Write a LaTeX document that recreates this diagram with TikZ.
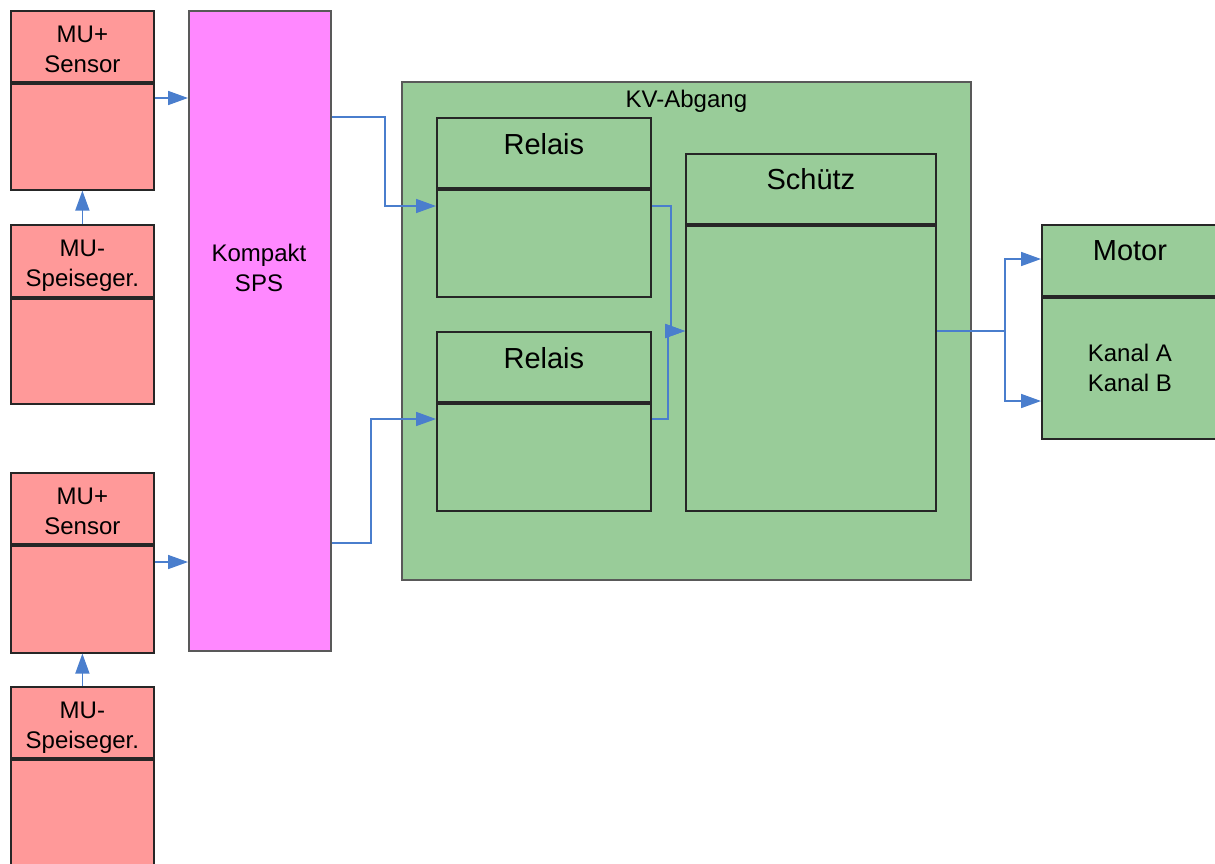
\documentclass[tikz,border=0pt]{standalone}
\usepackage{fontspec}
\setmainfont{Liberation Sans}
\usetikzlibrary{arrows.meta,positioning}
\definecolor{mured}{RGB}{255,153,153}
\definecolor{spsmag}{RGB}{255,136,255}
\definecolor{kvgreen}{RGB}{153,204,153}
\definecolor{linkblue}{RGB}{74,126,205}
\begin{document}
\begin{tikzpicture}[x=1pt, y=-1pt,
    >={Triangle[length=20pt,width=14pt]},
    box/.style={draw=black!85, line width=1.8pt, anchor=north west, inner sep=0pt},
    redbox/.style={box, fill=mured, minimum width=143pt},
    greenbox/.style={box, fill=kvgreen},
    lbl/.style={inner sep=0pt, align=center, font=\fontsize{24}{30}\selectfont},
    biglbl/.style={inner sep=0pt, font=\fontsize{29}{35}\selectfont},
    conn/.style={draw=linkblue, line width=1.7pt, ->}]
    % 画布大小（与原图一致）
    \fill[white] (0,0) rectangle (1215,863);
    \useasboundingbox (0,0) rectangle (1215,863);

    % 左侧 MU 模块：上面一组
    \node[redbox, minimum height=71pt] (s1h) at (10,10) {};
    \node[redbox, anchor=north, minimum height=106pt] (s1b) at (s1h.south) {};
    \node[lbl, below=16pt of s1h.north] (s1t) {MU+\\Sensor};
    \node[redbox, minimum height=72pt] (p1h) at (10,224) {};
    \node[redbox, anchor=north, minimum height=105pt] (p1b) at (p1h.south) {};
    \node[lbl, below=16pt of p1h.north] (p1t) {MU-\\Speiseger.};

    % 左侧 MU 模块：下面一组
    \node[redbox, minimum height=71pt] (s2h) at (10,472) {};
    \node[redbox, anchor=north, minimum height=107pt] (s2b) at (s2h.south) {};
    \node[lbl, below=16pt of s2h.north] (s2t) {MU+\\Sensor};
    \node[redbox, minimum height=71pt] (p2h) at (10,686) {};
    \node[redbox, anchor=north, minimum height=115pt] (p2b) at (p2h.south) {}; % 下边被裁掉
    \node[lbl, below=16pt of p2h.north] (p2t) {MU-\\Speiseger.};

    % SPS
    \node[box, fill=spsmag, draw=black!65, minimum width=142pt, minimum height=640pt] (sps) at (188,10) {};
    \node[lbl] (spst) at (259,268) {Kompakt\\SPS};

    % KV-Abgang 外框
    \node[greenbox, draw=black!65, minimum width=569pt, minimum height=498pt] (kv) at (401,81) {};
    \node[lbl, below=9pt of kv.north] (kvt) {KV-Abgang};

    % 两个继电器
    \node[greenbox, minimum width=214pt, minimum height=70pt] (r1h) at (436,117) {};
    \node[greenbox, anchor=north, minimum width=214pt, minimum height=107pt] (r1b) at (r1h.south) {};
    \node[biglbl, below=16pt of r1h.north] (r1t) {Relais};
    \node[greenbox, minimum width=214pt, minimum height=70pt] (r2h) at (436,331) {};
    \node[greenbox, anchor=north, minimum width=214pt, minimum height=107pt] (r2b) at (r2h.south) {};
    \node[biglbl, below=16pt of r2h.north] (r2t) {Relais};

    % 接触器
    \node[greenbox, minimum width=250pt, minimum height=70pt] (schh) at (685,153) {};
    \node[greenbox, anchor=north, minimum width=250pt, minimum height=285pt] (schb) at (schh.south) {};
    \node[biglbl, below=15pt of schh.north] (scht) {Schütz};

    % 电机（右边被裁掉）
    \node[greenbox, minimum width=176pt, minimum height=71pt] (moth) at (1041,224) {};
    \node[greenbox, anchor=north, minimum width=176pt, minimum height=141pt] (motb) at (moth.south) {};
    \node[biglbl, below=16pt of moth.north] (mott) {Motor};
    \node[lbl] (motk) at (motb.center) {Kanal A\\Kanal B};

    % 连线
    \draw[conn] (p1h.north) -- (s1b.south);
    \draw[conn] (p2h.north) -- (s2b.south);
    \draw[conn] (s1b.east |- 0,98) -- (sps.west |- 0,98);
    \draw[conn] (s2b.east |- 0,562) -- (sps.west |- 0,562);
    \draw[conn] (sps.east |- 0,117) -| (385,206) -- (r1b.west |- 0,206);
    \draw[conn] (sps.east |- 0,543) -| (371,419) -- (r2b.west |- 0,419);
    \draw[conn] (r1b.east |- 0,206) -| (671,331) -- (schb.west |- 0,331);
    \draw[conn] (r2b.east |- 0,419) -| (668,331) -- (schb.west |- 0,331);
    \draw[conn] (schb.east |- 0,331) -| (1005,259) -- (moth.west |- 0,259);
    \draw[conn] (schb.east |- 0,331) -| (1005,401) -- (motb.west |- 0,401);
\end{tikzpicture}
\end{document}
